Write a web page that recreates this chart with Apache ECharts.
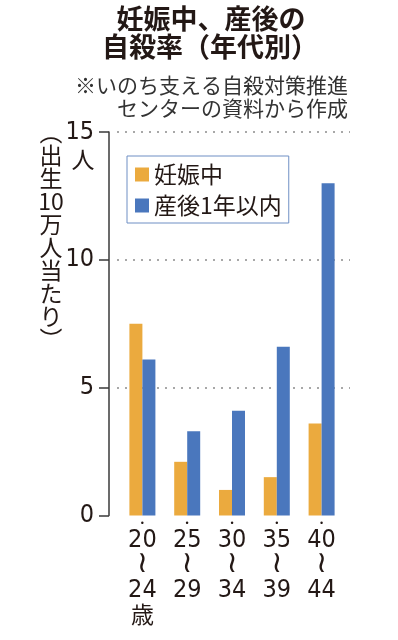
<!DOCTYPE html>
<html>
<head>
<meta charset="utf-8">
<script src="https://cdn.jsdelivr.net/npm/echarts@6/dist/echarts.min.js"></script>
<style>
html, body { margin: 0; padding: 0; background: #fff; }
#main { width: 398px; height: 640px; }
</style>
</head>
<body>
<div id="main"></div>
<script>
// data (per 100,000 births)
var ageFrom = ['20', '25', '30', '35', '40'];
var ageTo = ['24', '29', '34', '39', '44'];
var pregnant = [7.5, 2.1, 1.0, 1.5, 3.6];
var postpartum = [6.1, 3.3, 4.1, 6.6, 13.0];
var seriesNames = ['妊娠中', '産後1年以内'];
var yMax = 15, yStep = 5;
var yNameChars = ['︵', '出', '生', '10', '万', '人', '当', 'た', 'り', '︶'];

var cjk = "'Noto Sans CJK JP', sans-serif";
var narrow = "'Liberation Sans Narrow', 'DejaVu Sans Condensed', 'Noto Sans CJK JP', sans-serif";
var ink = '#231815';

var chart = echarts.init(document.getElementById('main'));

var option = {
    animation: false,
    backgroundColor: '#fff',
    color: ['#EBAA3E', '#4A77BD'],
    graphic: [
        { type: 'text', style: { text: '妊娠中、産後の', x: 211, y: 19, textAlign: 'center', textVerticalAlign: 'middle', font: 'bold 27px ' + cjk, fill: ink } },
        { type: 'text', style: { text: '自殺率（年代別）', x: 210, y: 47, textAlign: 'center', textVerticalAlign: 'middle', font: 'bold 27px ' + cjk, fill: ink } },
        { type: 'text', style: { text: '※いのち支える自殺対策推進', x: 348, y: 85, textAlign: 'right', textVerticalAlign: 'middle', font: '21px ' + cjk, fill: '#333' } },
        { type: 'text', style: { text: 'センターの資料から作成', x: 348, y: 108, textAlign: 'right', textVerticalAlign: 'middle', font: '21px ' + cjk, fill: '#333' } },
        { type: 'text', style: { text: '人', x: 83, y: 159, textAlign: 'center', textVerticalAlign: 'middle', font: '23px ' + cjk, fill: ink } },
        { type: 'text', style: { text: yNameChars.join('\n'), x: 51, y: 121, textAlign: 'center', textVerticalAlign: 'top', font: '23px ' + cjk, lineHeight: 23, fill: ink } }
    ],
    legend: {
        orient: 'vertical',
        left: 127,
        top: 156,
        data: seriesNames,
        icon: 'rect',
        itemWidth: 14,
        itemHeight: 14,
        itemGap: 8,
        padding: [7, 7, 6, 8],
        borderColor: '#6f8fc4',
        borderWidth: 1,
        textStyle: { fontSize: 23, lineHeight: 23, fontFamily: cjk, color: ink }
    },
    grid: [
        { left: 120, right: 54, top: 132, bottom: 124.5 },
        { left: 117, right: 48, top: 132, bottom: 124.5 }
    ],
    xAxis: [
        {
            type: 'category',
            gridIndex: 0,
            data: ageFrom,
            axisLine: { show: false },
            axisTick: { show: false },
            axisLabel: {
                margin: 2,
                interval: 0,
                color: ink,
                formatter: function (v, i) {
                    return '{d|•}\n{n|' + v + '}\n{w|≀}\n{m|' + ageTo[i] + '}' + (i === 0 ? '\n{u|歳}' : '');
                },
                rich: {
                    d: { fontSize: 9, lineHeight: 12, color: ink },
                    n: { fontSize: 25, lineHeight: 22, fontFamily: narrow, color: ink },
                    w: { fontSize: 30, lineHeight: 26, fontFamily: 'DejaVu Sans', color: ink },
                    m: { fontSize: 25, lineHeight: 26, fontFamily: narrow, color: ink },
                    u: { fontSize: 23, lineHeight: 22, fontFamily: cjk, color: ink }
                }
            }
        },
        { type: 'category', gridIndex: 1, data: ageFrom, show: false }
    ],
    yAxis: [
        {
            type: 'value',
            gridIndex: 0,
            min: 0,
            max: yMax,
            interval: yStep,
            offset: 11,
            axisLine: { show: true, lineStyle: { color: '#3a3a3a', width: 1.5 } },
            axisTick: { show: true, length: 10, lineStyle: { color: '#3a3a3a', width: 1.5 } },
            axisLabel: { margin: 15, fontSize: 25, fontFamily: narrow, color: ink },
            splitLine: { show: false }
        },
        {
            type: 'value',
            gridIndex: 1,
            min: 0,
            max: yMax,
            interval: yStep,
            axisLine: { show: false },
            axisTick: { show: false },
            axisLabel: { show: false },
            splitLine: { show: true, showMinLine: false, lineStyle: { type: [2, 6], color: '#a8a8a8', width: 2 } }
        }
    ],
    series: [
        { name: seriesNames[0], type: 'bar', data: pregnant, barWidth: 13, barGap: '0%' },
        { name: seriesNames[1], type: 'bar', data: postpartum, barWidth: 13, barGap: '0%' }
    ]
};

chart.setOption(option);
</script>
</body>
</html>
